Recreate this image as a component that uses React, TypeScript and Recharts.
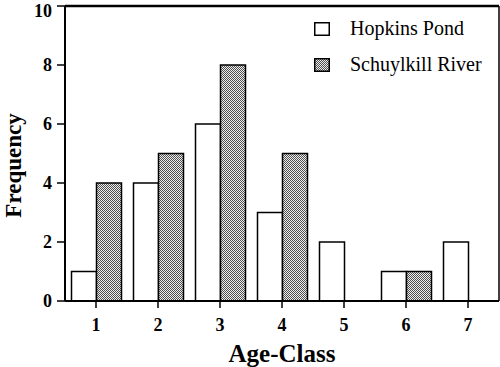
import React from 'react';
import { BarChart, Bar, XAxis, YAxis, Legend, CartesianGrid, ReferenceLine } from 'recharts';

const categories = ['1', '2', '3', '4', '5', '6', '7'];
const hopkinsPond = [1, 4, 6, 3, 2, 1, 2];
const schuylkillRiver = [4, 5, 8, 5, 0, 1, 0];
const yTicks = [0, 2, 4, 6, 8, 10];
const seriesNames = ['Hopkins Pond', 'Schuylkill River'];

const data = categories.map((c, i) => ({
  age: c,
  hopkins: hopkinsPond[i],
  schuylkill: schuylkillRiver[i],
}));

const FONT = 'Liberation Serif, Times New Roman, serif';

const LegendContent = () => {
  const fills = ['#fff', 'url(#stip)'];
  return (
    <svg width={190} height={80} style={{ display: 'block' }}>
      {seriesNames.map((name, i) => (
        <g key={name} transform={`translate(0 ${i * 36 - 1})`}>
          <rect x={1.75} y={12.75} width={14.5} height={12.5} fill={fills[i]} stroke="#000" strokeWidth={1.5} />
          <text x={37} y={25} style={{ fontFamily: '"Liberation Serif", serif', fontSize: 20 }} fill="#000">
            {name}
          </text>
        </g>
      ))}
    </svg>
  );
};

const YLabel = (props: any) => {
  const vb = props.viewBox || { x: 0, y: 6, width: 65, height: 295 };
  const x = vb.x + 21;
  const y = vb.y + vb.height / 2 + 12;
  return (
    <text
      x={x}
      y={y}
      transform={`rotate(-90 ${x} ${y})`}
      textAnchor="middle"
      fontFamily={FONT}
      fontWeight="bold"
      fontSize={23}
      fill="#000"
    >
      Frequency
    </text>
  );
};

const XLabel = (props: any) => {
  const vb = props.viewBox || { x: 65, y: 301, width: 434, height: 66 };
  return (
    <text
      x={vb.x + vb.width / 2}
      y={vb.y + 61}
      textAnchor="middle"
      fontFamily={FONT}
      fontWeight="bold"
      fontSize={25}
      fill="#000"
    >
      Age-Class
    </text>
  );
};

export default function App() {
  return (
    <div style={{ position: 'absolute', left: 0, top: 0, background: '#fff' }}>
      <svg width={0} height={0} style={{ position: 'absolute' }}>
        <defs>
          <pattern id="stip" width={2} height={2} patternUnits="userSpaceOnUse">
            <rect x={0} y={0} width={2} height={2} fill="#eeeeee" />
            <rect x={0} y={0} width={1} height={1} fill="#505050" />
            <rect x={1} y={1} width={1} height={1} fill="#505050" />
          </pattern>
        </defs>
      </svg>
      <BarChart
        width={500}
        height={367}
        data={data}
        margin={{ top: 6, right: 1, bottom: 0, left: 0 }}
        barCategoryGap={6.5}
        barGap={0}
      >
        <CartesianGrid
          stroke="#000"
          strokeWidth={1.5}
          horizontal={false}
          verticalCoordinatesGenerator={(p: any) => [p.offset.left + p.offset.width]}
        />
        <ReferenceLine y={10} stroke="#000" strokeWidth={2.5} ifOverflow="extendDomain" />
        <XAxis
          dataKey="age"
          height={66}
          tickLine={{ stroke: '#000', strokeWidth: 1.5 }}
          axisLine={{ stroke: '#000', strokeWidth: 2 }}
          tickSize={7}
          tickMargin={10}
          tick={{ fontFamily: FONT, fontWeight: 'bold', fontSize: 18, fill: '#000' }}
          label={<XLabel />}
        />
        <YAxis
          domain={[0, 10]}
          ticks={yTicks}
          width={65}
          tickSize={8}
          tickMargin={5}
          tickLine={{ stroke: '#000', strokeWidth: 1.5 }}
          axisLine={{ stroke: '#000', strokeWidth: 2 }}
          tick={{ fontFamily: FONT, fontWeight: 'bold', fontSize: 18, fill: '#000' }}
          label={<YLabel />}
        />
        <Legend
          layout="vertical"
          align="center"
          verticalAlign="middle"
          wrapperStyle={{ position: 'absolute', left: 313, top: 11, width: 190 }}
          content={<LegendContent />}
        />
        <Bar dataKey="hopkins" name={seriesNames[0]} fill="#fff" stroke="#000" strokeWidth={1.5} isAnimationActive={false} />
        <Bar dataKey="schuylkill" name={seriesNames[1]} fill="url(#stip)" stroke="#000" strokeWidth={1.5} isAnimationActive={false} />
      </BarChart>
    </div>
  );
}
